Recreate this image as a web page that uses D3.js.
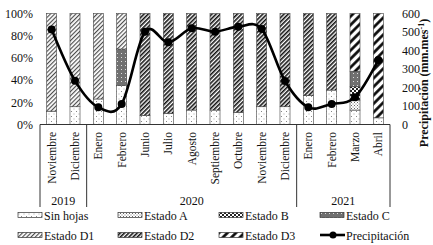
<!DOCTYPE html>
<html><head><meta charset="utf-8">
<script src="https://cdn.jsdelivr.net/npm/d3@7"></script>
<style>
html,body{margin:0;padding:0;background:#fff;}
svg{display:block;font-family:"Liberation Serif","Times New Roman",serif;}
</style></head>
<body><svg id="c" width="433" height="245"></svg>
<script>
const months = ["Noviembre","Diciembre","Enero","Febrero","Junio","Julio","Agosto","Septiembre","Octubre","Noviembre","Diciembre","Enero","Febrero","Marzo","Abril"];
const years = [{label:"2019", from:0, to:2},{label:"2020", from:2, to:11},{label:"2021", from:11, to:15}];
const seriesNames = ["Sin hojas","Estado A","Estado B","Estado C","Estado D1","Estado D2","Estado D3"];
const sinHojas = [12,16,23,35,8,10,13,13,11,16,16,26,31,13,6];
const estadoA  = [0,0,0,0,0,0,0,0,0,0,0,0,0,9,0];
const estadoB  = [0,0,0,0,0,0,0,0,0,0,0,0,0,12,0];
const estadoC  = [0,0,0,33,0,0,0,0,0,0,0,0,0,14,0];
const estadoD1 = [88,84,77,32,0,0,0,0,0,0,0,0,0,0,0];
const estadoD2 = [0,0,0,0,92,90,87,87,89,84,84,74,69,0,0];
const estadoD3 = [0,0,0,0,0,0,0,0,0,0,0,0,0,52,94];
const precip   = [514,237,93,111,502,444,520,502,529,516,235,93,111,147,349];
const pctTicks = [0,20,40,60,80,100];
const mmTicks  = [0,100,200,300,400,500,600];

const svg = d3.select("#c");
const defs = svg.append("defs");
function pat(id, w, h, rot, draw){
  const p = defs.append("pattern").attr("id",id).attr("patternUnits","userSpaceOnUse")
    .attr("width",w).attr("height",h);
  if(rot) p.attr("patternTransform","rotate("+rot+")");
  draw(p);
}
pat("p0",5,5,0,p=>{p.append("rect").attr("width",5).attr("height",5).attr("fill","#fff");
  p.append("rect").attr("x",1).attr("y",1).attr("width",1).attr("height",1).attr("fill","#888");
  p.append("rect").attr("x",3.5).attr("y",3.5).attr("width",1).attr("height",1).attr("fill","#aaa");});
pat("p1",3,3,0,p=>{p.append("rect").attr("width",3).attr("height",3).attr("fill","#fff");
  p.append("rect").attr("x",0).attr("y",0).attr("width",1).attr("height",1).attr("fill","#666");
  p.append("rect").attr("x",1.5).attr("y",1.5).attr("width",1).attr("height",1).attr("fill","#777");});
pat("p2",4,4,0,p=>{p.append("rect").attr("width",4).attr("height",4).attr("fill","#fff");
  p.append("rect").attr("x",0).attr("y",0).attr("width",2).attr("height",2).attr("fill","#222");
  p.append("rect").attr("x",2).attr("y",2).attr("width",2).attr("height",2).attr("fill","#222");});
pat("p3",4,4,0,p=>{p.append("rect").attr("width",4).attr("height",4).attr("fill","#707070");
  p.append("rect").attr("x",1).attr("y",1).attr("width",1).attr("height",1).attr("fill","#ddd");});
pat("p4",3,3,45,p=>{p.append("rect").attr("width",3).attr("height",3).attr("fill","#fff");
  p.append("line").attr("x1",0.6).attr("y1",0).attr("x2",0.6).attr("y2",3).attr("stroke","#444").attr("stroke-width",1.1);});
pat("p5",3,3,45,p=>{p.append("rect").attr("width",3).attr("height",3).attr("fill","#fff");
  p.append("line").attr("x1",0.8).attr("y1",0).attr("x2",0.8).attr("y2",3).attr("stroke","#111").attr("stroke-width",1.6);});
pat("p6",6,6,45,p=>{p.append("rect").attr("width",6).attr("height",6).attr("fill","#fff");
  p.append("line").attr("x1",1.5).attr("y1",0).attr("x2",1.5).attr("y2",6).attr("stroke","#000").attr("stroke-width",2.6);});

const L = 40, R = 390, T = 13.5, B = 124.5;
const idx = d3.range(months.length);
const x = d3.scaleBand().domain(idx).range([L,R]).paddingInner(0.57).paddingOuter(0.285);
const yL = d3.scaleLinear().domain([0,100]).range([B,T]);
const yR = d3.scaleLinear().domain([0,600]).range([B,T]);

const rows = idx.map(i=>({i, v:[sinHojas[i],estadoA[i],estadoB[i],estadoC[i],estadoD1[i],estadoD2[i],estadoD3[i]]}));
const stack = d3.stack().keys(d3.range(7)).value((d,k)=>d.v[k])(rows);

const g = svg.append("g");
stack.forEach((layer,k)=>{
  g.selectAll(null).data(layer.filter(d=>d[1]-d[0]>0)).join("rect")
    .attr("x",d=>x(d.data.i)).attr("width",x.bandwidth())
    .attr("y",d=>yL(d[1])).attr("height",d=>yL(d[0])-yL(d[1]))
    .attr("fill","url(#p"+k+")").attr("stroke","#444").attr("stroke-width",0.6);
});

// axes
const ax = svg.append("g").attr("transform",`translate(${L},0)`)
  .call(d3.axisLeft(yL).tickValues(pctTicks).tickSize(0).tickPadding(7).tickFormat(d=>d+"%"));
ax.select(".domain").remove();
ax.selectAll("text").attr("font-family","Liberation Serif").attr("font-size",12).attr("fill","#111");
const ar = svg.append("g").attr("transform",`translate(${R},0)`)
  .call(d3.axisRight(yR).tickValues(mmTicks).tickSize(0).tickPadding(12));
ar.select(".domain").remove();
ar.selectAll("text").attr("font-family","Liberation Serif").attr("font-size",12).attr("fill","#111");

// baseline and year separators
svg.append("line").attr("x1",L).attr("x2",R).attr("y1",B).attr("y2",B).attr("stroke","#333").attr("stroke-width",1);
const sepX = [L, (x(1)+x(2)+x.bandwidth())/2, (x(10)+x(11)+x.bandwidth())/2, R];
sepX.forEach(sx=>{
  svg.append("line").attr("x1",sx).attr("x2",sx).attr("y1",B).attr("y2",207).attr("stroke","#333").attr("stroke-width",1);
});

// month labels
svg.selectAll(null).data(idx).join("text")
  .attr("transform",i=>`translate(${x(i)+x.bandwidth()/2+4},132) rotate(-90)`)
  .attr("text-anchor","end").attr("font-size",11.5).attr("fill","#111").text(i=>months[i]);

// year labels
svg.selectAll(null).data(years).join("text")
  .attr("x",(d,j)=>(sepX[j]+sepX[j+1])/2).attr("y",205).attr("text-anchor","middle")
  .attr("font-size",12).attr("fill","#111").text(d=>d.label);

// right title
const rt = svg.append("text").attr("transform","translate(428,83) rotate(-90)")
  .attr("text-anchor","middle").attr("font-size",12).attr("font-weight","bold").attr("fill","#111");
rt.append("tspan").text("Precipitación (mm.mes");
rt.append("tspan").attr("baseline-shift","super").attr("font-size",8).text("-1");
rt.append("tspan").text(")");

// precipitation line
const line = d3.line().x((d,i)=>x(i)+x.bandwidth()/2).y(d=>yR(d)).curve(d3.curveCardinal.tension(0));
svg.append("path").datum(precip).attr("d",line).attr("fill","none").attr("stroke","#000").attr("stroke-width",2.6);
svg.selectAll(null).data(precip).join("circle")
  .attr("cx",(d,i)=>x(i)+x.bandwidth()/2).attr("cy",d=>yR(d)).attr("r",4).attr("fill","#000");

// legend
const legX = [18,118,219,320];
const legItems = seriesNames.map((n,k)=>({n,k})).concat([{n:"Precipitación",k:-1}]);
legItems.forEach((it,j)=>{
  const col = j%4, row = Math.floor(j/4);
  const lx = legX[col], ly = row===0 ? 215 : 235;
  if(it.k>=0){
    svg.append("rect").attr("x",lx).attr("y",ly-2.5).attr("width",24).attr("height",5)
      .attr("fill","url(#p"+it.k+")").attr("stroke","#333").attr("stroke-width",0.7);
  } else {
    svg.append("line").attr("x1",lx).attr("x2",lx+25).attr("y1",ly).attr("y2",ly).attr("stroke","#000").attr("stroke-width",2.6);
    svg.append("circle").attr("cx",lx+13).attr("cy",ly).attr("r",3.5).attr("fill","#000");
  }
  svg.append("text").attr("x",lx+26).attr("y",ly+4.5).attr("font-size",12).attr("fill","#111").text(it.n);
});
</script></body></html>
